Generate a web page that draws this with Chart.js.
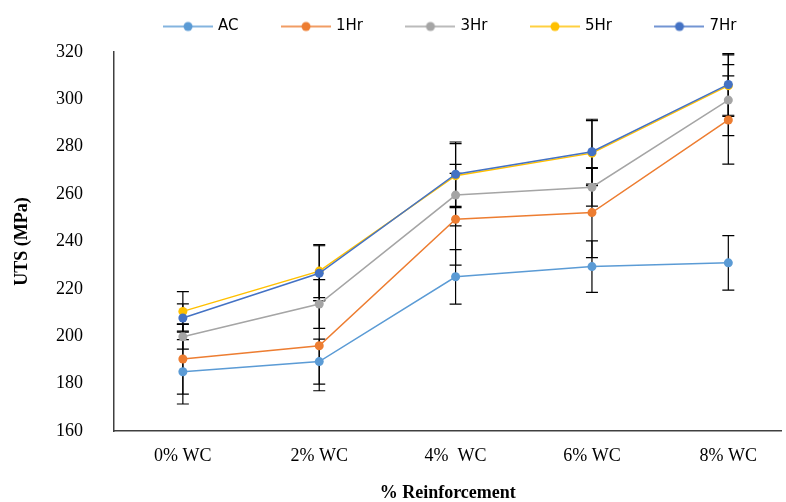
<!DOCTYPE html>
<html>
<head>
<meta charset="utf-8">
<script src="https://cdn.jsdelivr.net/npm/chart.js@4"></script>
<style>
  html, body { margin: 0; padding: 0; background: #fff; }
  #wrap { width: 786px; height: 502px; }
</style>
</head>
<body>
<div id="wrap"><canvas id="chart"></canvas></div>
<script>
const categories = ["0% WC", "2% WC", "4%  WC", "6% WC", "8% WC"];
const seriesNames = ["AC", "1Hr", "3Hr", "5Hr", "7Hr"];
const colors = ["#5B9BD5", "#ED7D31", "#A5A5A5", "#FFC000", "#4472C4"];

const ac = [185, 189.3, 225.1, 229.4, 231];
const hr1 = [190.4, 196, 249.4, 252.2, 291.3];
const hr3 = [199.8, 213.6, 259.6, 262.9, 299.7];
const hr5 = [210.5, 227.5, 267.8, 277.3, 305.8];
const hr7 = [207.7, 226.6, 268.4, 277.9, 306.3];

const acErr = [13.6, 9.5, 11.5, 10.9, 11.5];
const hr1Err = [14.8, 19, 19.4, 19, 18.6];
const hr3Err = [5.2, 10.3, 13, 8, 15];
const hr5Err = [8.3, 11.2, 13.5, 13.7, 13];
const hr7Err = [6, 11.6, 13.6, 13.7, 13];

const yTicks = [160, 180, 200, 220, 240, 260, 280, 300, 320];

const values = [ac, hr1, hr3, hr5, hr7];
const errors = [acErr, hr1Err, hr3Err, hr5Err, hr7Err];

function legendIcon(color) {
  const c = document.createElement("canvas");
  c.width = 50;
  c.height = 12;
  const ctx = c.getContext("2d");
  ctx.strokeStyle = color;
  ctx.lineWidth = 1.5;
  ctx.beginPath();
  ctx.moveTo(0, 6);
  ctx.lineTo(50, 6);
  ctx.stroke();
  ctx.fillStyle = color;
  ctx.beginPath();
  ctx.arc(25, 6, 4.5, 0, Math.PI * 2);
  ctx.fill();
  return c;
}

// legend: fixed height, and shifted right like the original
const legendTweak = {
  id: "legendTweak",
  afterInit(chart) {
    const fit = chart.legend.fit;
    chart.legend.fit = function () {
      fit.call(this);
      this.height = 78;
    };
  },
  afterLayout(chart) {
    chart.legend.left += 58;
    chart.legend.right += 58;
  },
};

const errorBars = {
  id: "errorBars",
  beforeDatasetsDraw(chart) {
    const { ctx, scales: { x, y } } = chart;
    ctx.save();
    ctx.strokeStyle = "#000";
    ctx.lineWidth = 1.2;
    errors.forEach((errs, s) => {
      errs.forEach((e, i) => {
        const px = x.getPixelForValue(i);
        const top = y.getPixelForValue(values[s][i] + e);
        const bot = y.getPixelForValue(values[s][i] - e);
        ctx.beginPath();
        ctx.moveTo(px, top);
        ctx.lineTo(px, bot);
        ctx.moveTo(px - 6, top);
        ctx.lineTo(px + 6, top);
        ctx.moveTo(px - 6, bot);
        ctx.lineTo(px + 6, bot);
        ctx.stroke();
      });
    });
    ctx.restore();
  },
};

const datasets = seriesNames.map((name, s) => ({
  label: name,
  data: values[s].map((v, i) => ({ x: i, y: v })),
  borderColor: colors[s],
  backgroundColor: colors[s],
  borderWidth: 1.5,
  pointRadius: 4.5,
  pointBorderWidth: 0,
  showLine: true,
  tension: 0,
  order: seriesNames.length - s,
}));

new Chart("chart", {
  type: "scatter",
  data: { datasets },
  plugins: [legendTweak, errorBars],
  options: {
    responsive: true,
    maintainAspectRatio: false,
    animation: false,
    layout: { padding: { left: 0, right: 0, top: -26, bottom: 0 } },
    plugins: {
      tooltip: { enabled: false },
      legend: {
        position: "top",
        labels: {
          usePointStyle: true,
          pointStyleWidth: 45,
          padding: 45,
          color: "#595959",
          font: { family: "'DejaVu Sans', sans-serif", size: 15 },
          generateLabels: () =>
            seriesNames.map((name, s) => ({
              text: name,
              pointStyle: legendIcon(colors[s]),
              fillStyle: colors[s],
              strokeStyle: colors[s],
              lineWidth: 0,
              hidden: false,
              datasetIndex: s,
            })),
        },
      },
    },
    scales: {
      x: {
        type: "linear",
        min: -0.505,
        max: 4.39,
        grid: { display: false },
        border: { display: true, color: "#404040", width: 1.5 },
        afterBuildTicks: (scale) => {
          scale.ticks = categories.map((c, i) => ({ value: i }));
        },
        afterFit: (scale) => {
          scale.height = 71;
        },
        ticks: {
          padding: 6,
          color: "#000",
          font: { family: "'Liberation Serif', serif", size: 18 },
          callback: (v) => categories[v],
        },
        title: {
          display: true,
          text: "% Reinforcement",
          color: "#000",
          font: { family: "'Liberation Serif', serif", size: 18, weight: "bold" },
          padding: { top: 0, bottom: -2 },
        },
      },
      y: {
        min: 160,
        max: 320,
        grid: { display: false },
        border: { display: true, color: "#404040", width: 1.5 },
        afterBuildTicks: (scale) => {
          scale.ticks = yTicks.map((v) => ({ value: v }));
        },
        afterFit: (scale) => {
          scale.width = 114;
        },
        ticks: {
          padding: 23,
          color: "#000",
          font: { family: "'Liberation Serif', serif", size: 18 },
        },
        title: {
          display: true,
          text: "UTS (MPa)",
          color: "#000",
          font: { family: "'Liberation Serif', serif", size: 18, weight: "bold" },
          padding: { top: 12, bottom: 0 },
        },
      },
    },
  },
});
</script>
</body>
</html>
